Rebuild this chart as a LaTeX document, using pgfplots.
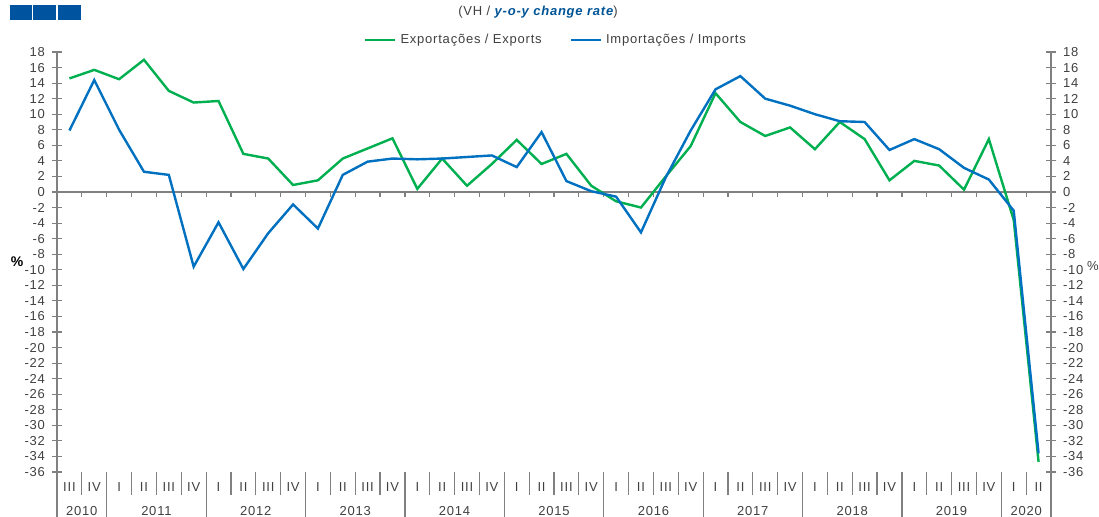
\documentclass[border=0pt]{standalone}
\usepackage{fontspec}
\setmainfont[LetterSpace=6]{Liberation Sans}
\usepackage{pgfplots}
\usepackage{pgfplotstable}
\pgfplotsset{compat=1.18}

\definecolor{expgreen}{RGB}{0,176,80}
\definecolor{impblue}{RGB}{0,112,192}
\definecolor{boxblue}{RGB}{0,84,159}
\definecolor{titleblue}{RGB}{0,84,150}
\definecolor{axisgray}{RGB}{128,128,128}
\definecolor{txtgray}{RGB}{64,64,64}

% quarterly y-o-y change rates, 2010 III .. 2020 II
\pgfplotstableread{
x    exp    imp
0.5  14.6   7.9
1.5  15.7   14.4
2.5  14.5   8.0
3.5  17.0   2.6
4.5  13.0   2.2
5.5  11.5   -9.6
6.5  11.7   -3.9
7.5  4.9    -9.9
8.5  4.3    -5.3
9.5  0.9    -1.6
10.5 1.5    -4.7
11.5 4.3    2.2
12.5 5.6    3.9
13.5 6.9    4.3
14.5 0.4    4.2
15.5 4.3    4.3
16.5 0.8    4.5
17.5 3.6    4.7
18.5 6.7    3.2
19.5 3.6    7.7
20.5 4.9    1.4
21.5 0.8    0.1
22.5 -1.2   -0.6
23.5 -2.0   -5.2
24.5 2.0    1.9
25.5 5.9    7.9
26.5 12.7   13.2
27.5 9.0    14.9
28.5 7.2    12.0
29.5 8.3    11.1
30.5 5.5    10.0
31.5 9.0    9.1
32.5 6.8    9.0
33.5 1.5    5.4
34.5 4.0    6.8
35.5 3.4    5.5
36.5 0.3    3.1
37.5 6.8    1.6
38.5 -3.6   -2.4
39.5 -34.7  -33.6
}\trade

\pgfplotsset{
  common/.style={
    at={(0,0)}, anchor=south west,
    scale only axis, width=497pt, height=210pt,
    xmin=0, xmax=40, ymin=-36, ymax=18,
    axis x line=none,
    ytick={-36,-34,...,18},
    ytick align=center, major tick length=5pt,
    axis line style={axisgray, line width=0.6pt},
    tick style={axisgray, line width=0.6pt},
    /pgf/number format/assume math mode=true,
    yticklabel style={text=txtgray, font=\fontsize{6.5}{7}\selectfont},
  },
}

\begin{document}
\begin{tikzpicture}[font=\fontsize{6.5}{7.5}\selectfont]
\path[use as bounding box] (-28.5pt,-22.5pt) rectangle (521pt,236pt);

% header boxes and title
\fill[boxblue] (-23.5pt,226pt) rectangle (-12.65pt,233.5pt);
\fill[boxblue] (-11.85pt,226pt) rectangle (-0.5pt,233.5pt);
\fill[boxblue] (0.65pt,226pt) rectangle (11.85pt,233.5pt);
\node[text=txtgray] at (240.5pt,230pt)
  {(VH / \textcolor{titleblue}{\bfseries\itshape y-o-y change rate})};

% zero line with quarter ticks (axis: 12.425pt per quarter, y=0 at 140pt)
\draw[axisgray, line width=0.6pt] (0pt,140pt) -- (497pt,140pt);
\foreach \k in {1,...,39}
  \draw[axisgray, line width=0.6pt] (12.425pt*\k,140pt) -- (12.425pt*\k,137.5pt);

\begin{axis}[common,
  axis y line*=left,
  legend style={at={(0.503,1.0286)}, anchor=center, draw=none, fill=none,
    legend columns=2, text=txtgray, font=\fontsize{6.5}{7.5}\selectfont,
    /tikz/every even column/.append style={column sep=12pt}},
  legend image code/.code={\draw[#1] (0pt,0pt) -- (15pt,0pt);},
]
\addplot[expgreen, line width=1.2pt] table[x=x, y=exp] {\trade};
\addplot[impblue, line width=1.2pt] table[x=x, y=imp] {\trade};
\legend{Exportações / Exports, Importações / Imports}
\end{axis}

\begin{axis}[common, axis y line*=right]
\end{axis}

% category axis below the plot
\foreach \k in {1,3,4,5,7,8,9,11,12,13,15,16,17,19,20,21,23,24,25,27,28,29,31,32,33,35,36,37,39}
  \draw[axisgray, line width=0.6pt] (12.425pt*\k,0pt) -- (12.425pt*\k,-11.5pt);
\foreach \k in {0,2,6,10,14,18,22,26,30,34,38,40}
  \draw[axisgray, line width=0.6pt] (12.425pt*\k,0pt) -- (12.425pt*\k,-22.5pt);
\foreach \k in {0,...,39}{
  \pgfmathtruncatemacro{\q}{mod(\k+2,4)}
  \node[text=txtgray] at ({12.425pt*(\k+0.5)},-7.5pt)
    {\ifcase\q I\or II\or III\or IV\fi};
}
\foreach \k/\y in {1/2010,4/2011,8/2012,12/2013,16/2014,20/2015,24/2016,28/2017,32/2018,36/2019,39/2020}
  \node[text=txtgray] at (12.425pt*\k,-19.5pt) {\y};

% unit labels
\node[font=\fontsize{7}{8}\selectfont\bfseries] at (-20pt,105pt) {\%};
\node[text=txtgray] at (518pt,103pt) {\%};
\end{tikzpicture}
\end{document}
